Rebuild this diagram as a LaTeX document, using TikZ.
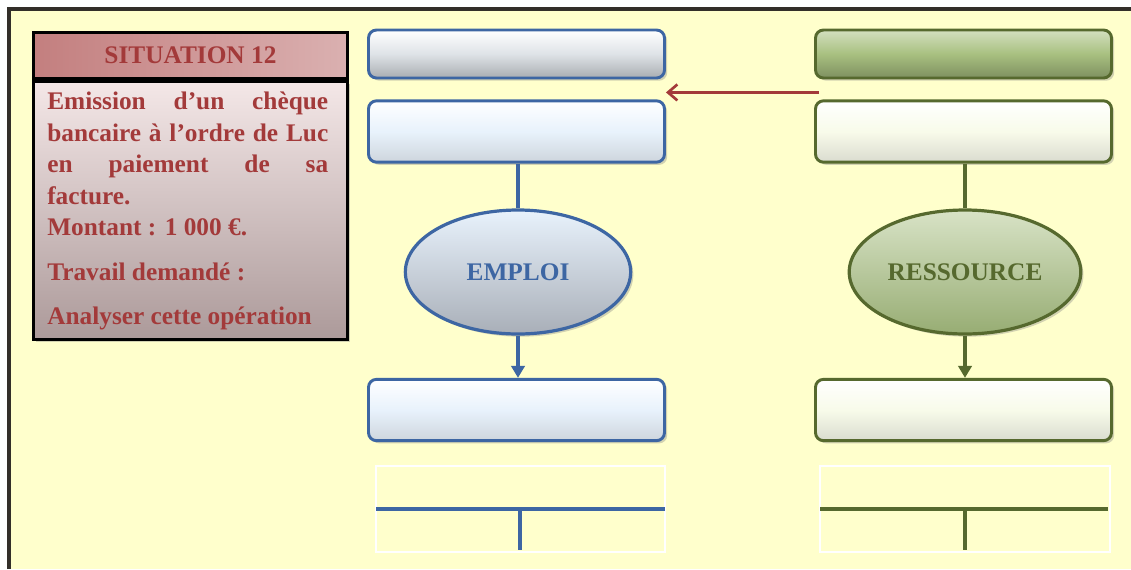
\documentclass[tikz,border=0pt]{standalone}
\usepackage{fontspec}
\setmainfont{Liberation Serif}
\usetikzlibrary{shapes.geometric, shadows, arrows.meta, positioning, calc}

\definecolor{fond}{HTML}{FFFFCC}
\definecolor{rouge}{HTML}{A33A3A}
\definecolor{bleu}{HTML}{3D66A3}
\definecolor{bleuclair}{HTML}{E8F2FC}
\definecolor{vert}{HTML}{56692E}
\definecolor{vertclair}{HTML}{F8FBEA}
\definecolor{vertmoyen}{HTML}{A8C080}

\tikzset{
  ombre/.style={drop shadow={shadow xshift=2pt, shadow yshift=-2pt, opacity=.35}},
  cadre/.style={rounded corners=6pt, line width=2.2pt, minimum width=222pt, ombre},
  boxbleu/.style={cadre, draw=bleu, top color=white, bottom color=bleuclair!75!gray, middle color=bleuclair, minimum height=46pt},
  titrebleu/.style={boxbleu, minimum height=36pt, top color=white, bottom color=gray!60!bleuclair, middle color=bleuclair!70!gray!60},
  boxvert/.style={cadre, draw=vert, top color=white, bottom color=vertclair!75!gray, middle color=vertclair, minimum height=46pt},
  titrevert/.style={boxvert, minimum height=36pt, top color=vertmoyen!50, bottom color=vertmoyen!75!black, middle color=vertmoyen},
  bulle/.style={ellipse, line width=2.4pt, minimum width=169pt, minimum height=93pt, ombre, font=\bfseries\fontsize{19}{22}\selectfont},
  lien/.style={line width=2.4pt},
  compte/.style={draw=white, line width=0.8pt},
}

\begin{document}
\begin{tikzpicture}[x=0.75pt, y=-0.75pt]
  \useasboundingbox (0,0) rectangle (1131,569);
  \fill[white] (0,0) rectangle (1131,569);
  \fill[fond] (9,9) rectangle (1131,569);
  \draw[line width=3.2pt, black!85!olive] (9,569) -- (9,9) -- (1131,9);

  % enonce
  \node[draw=black, line width=2.2pt, minimum width=235.5pt, minimum height=193.5pt, top color=rouge!12, bottom color=rouge!25!gray!70, ombre, anchor=north west] (corps) at (32,80) {};
  \node[draw=black, line width=2.2pt, minimum width=235.5pt, minimum height=34.5pt, left color=rouge!65!white, right color=rouge!40!white, text=rouge, font=\bfseries\fontsize{19}{22}\selectfont, anchor=south west] (titre) at (corps.north west) {SITUATION 12};
  \node[text width=210.75pt, align=justify, inner sep=0pt, text=rouge, font=\bfseries\fontsize{19}{23.6}\selectfont, anchor=north west] (texte) at (47,92)
    {Emission d’un chèque\linebreak bancaire à l’ordre de Luc\linebreak en paiement de sa\linebreak facture.\par
     Montant~: 1~000~€.\par\vspace{10pt}
     Travail demandé~:\par\vspace{9pt}
     Analyser cette opération\par};

  % colonne emploi
  \node[titrebleu] (etitre) at (516.5,54) {};
  \node[boxbleu] (edebut) at (516.5,131.5) {};
  \node[bulle, draw=bleu, top color=bleuclair, bottom color=bleu!25!gray!60, text=bleu] (emploi) at (518,272) {EMPLOI};
  \node[boxbleu] (efin) at (516.5,410) {};

  % colonne ressource
  \node[titrevert] (rtitre) at (963.5,54) {};
  \node[boxvert] (rdebut) at (963.5,131.5) {};
  \node[bulle, draw=vert, top color=vertmoyen!45, bottom color=vertmoyen!90!black, text=vert] (ressource) at (965,272) {RESSOURCE};
  \node[boxvert] (rfin) at (963.5,410) {};

  % liaisons
  \coordinate (depart) at ($(rtitre.south west)!.5!(rdebut.north west)+(5,3)$);
  \coordinate (arrivee) at ($(etitre.south east)!.5!(edebut.north east)+(0,3)$);
  \draw[rouge, line width=2pt, -{Straight Barb[length=7pt, width=12pt]}] (depart) -- (arrivee);

  \draw[lien, bleu] (edebut.south -| emploi.north) -- (emploi.north);
  \draw[lien, bleu, -{Triangle[length=9pt, width=10pt]}] (emploi.south) -- (efin.north -| emploi.south);
  \draw[lien, vert] (rdebut.south -| ressource.north) -- (ressource.north);
  \draw[lien, vert, -{Triangle[length=9pt, width=10pt]}] (ressource.south) -- (rfin.north -| ressource.south);

  % comptes en T
  \draw[compte] (376,466) rectangle (665,552);
  \draw[line width=3pt, bleu] (376,509) -- (665,509);
  \draw[line width=3pt, bleu] (520,509) -- (520,550);
  \draw[compte] (820,466) rectangle (1110,552);
  \draw[line width=3pt, vert] (820,509) -- (1108,509);
  \draw[line width=3pt, vert] (965,509) -- (965,550);
\end{tikzpicture}
\end{document}
